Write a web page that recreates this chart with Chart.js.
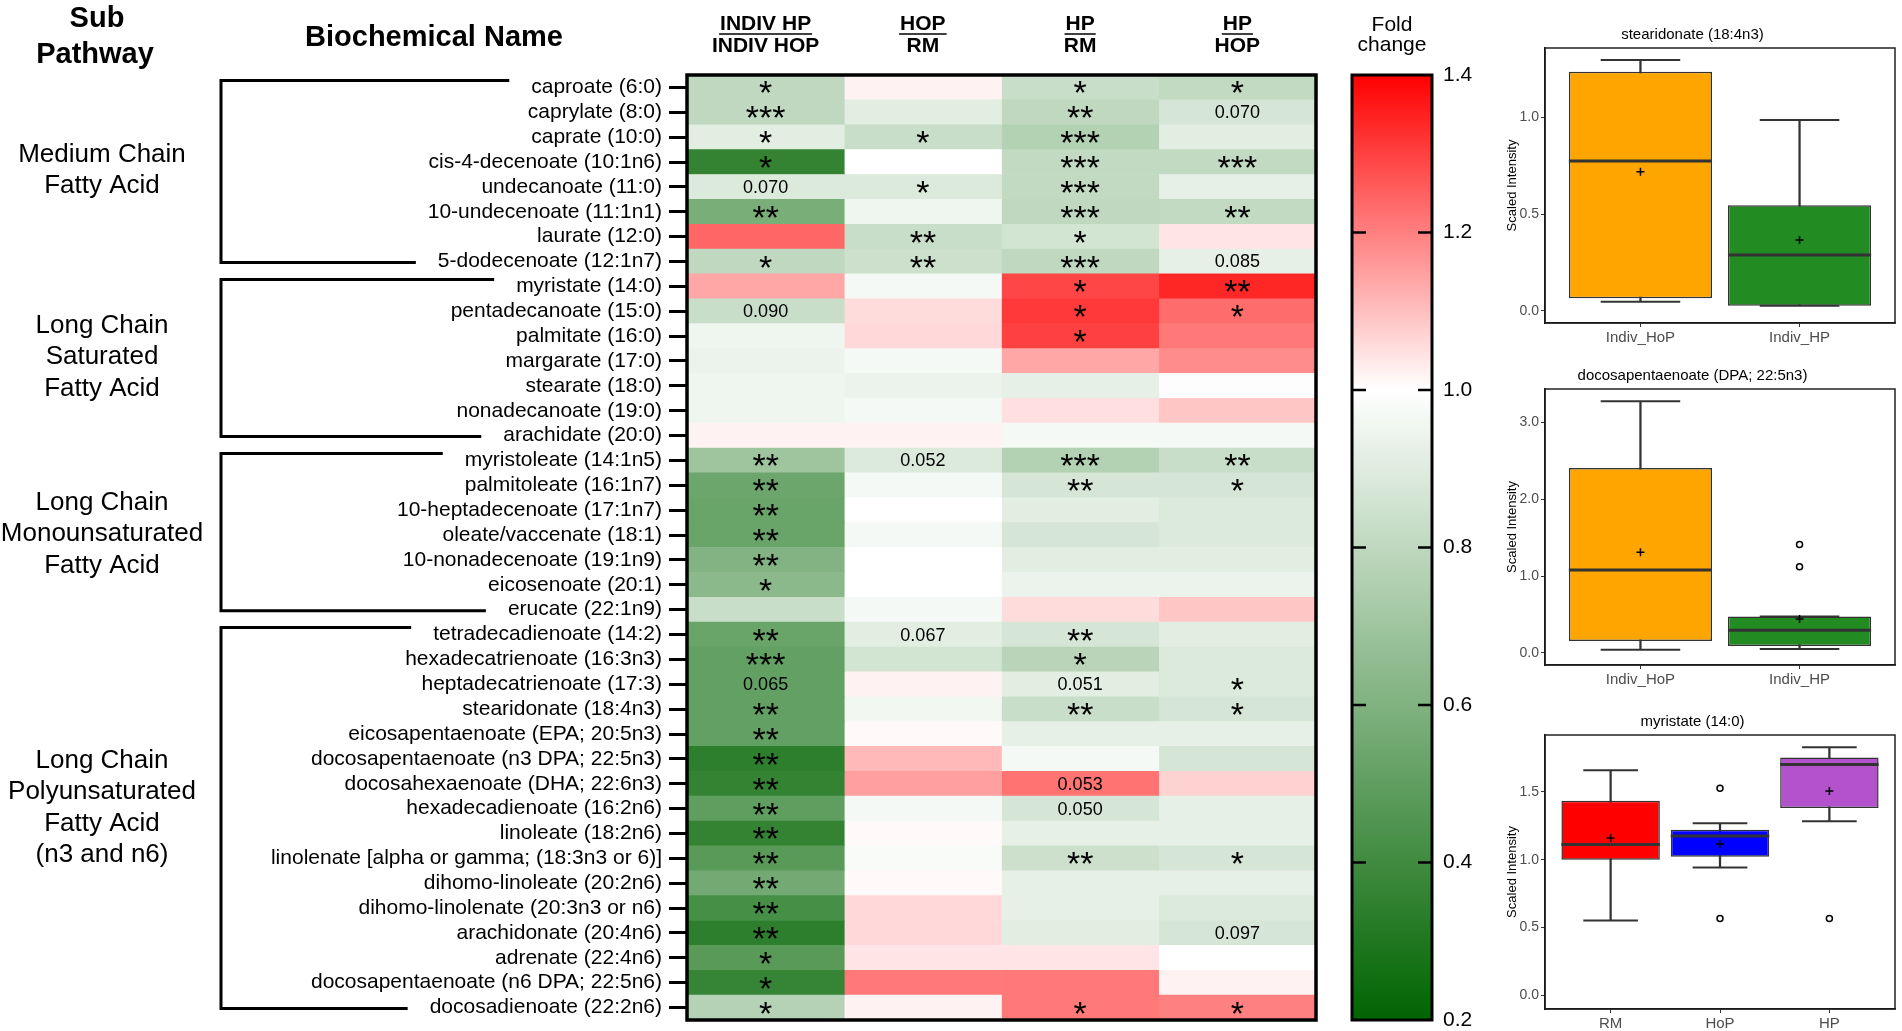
<!DOCTYPE html>
<html>
<head>
<meta charset="utf-8">
<script src="https://cdn.jsdelivr.net/npm/chart.js@4.4.1/dist/chart.umd.min.js"></script>
<style>
  html, body { margin: 0; padding: 0; background: #fff; width: 1902px; height: 1031px; overflow: hidden; }
  canvas { position: absolute; }
</style>
</head>
<body>
<canvas id="heat" width="1340" height="1031" style="left:0;top:0"></canvas>
<canvas id="scale" width="170" height="1031" style="left:1330px;top:0"></canvas>
<canvas id="box1" width="412" height="345" style="left:1490px;top:0"></canvas>
<canvas id="box2" width="412" height="346" style="left:1490px;top:341px"></canvas>
<canvas id="box3" width="412" height="344" style="left:1490px;top:687px"></canvas>
<script>
// heatmap rows
const rowNames = [
  'caproate (6:0)', 'caprylate (8:0)', 'caprate (10:0)', 'cis-4-decenoate (10:1n6)',
  'undecanoate (11:0)', '10-undecenoate (11:1n1)', 'laurate (12:0)', '5-dodecenoate (12:1n7)',
  'myristate (14:0)', 'pentadecanoate (15:0)', 'palmitate (16:0)', 'margarate (17:0)',
  'stearate (18:0)', 'nonadecanoate (19:0)', 'arachidate (20:0)',
  'myristoleate (14:1n5)', 'palmitoleate (16:1n7)', '10-heptadecenoate (17:1n7)',
  'oleate/vaccenate (18:1)', '10-nonadecenoate (19:1n9)', 'eicosenoate (20:1)', 'erucate (22:1n9)',
  'tetradecadienoate (14:2)', 'hexadecatrienoate (16:3n3)', 'heptadecatrienoate (17:3)',
  'stearidonate (18:4n3)', 'eicosapentaenoate (EPA; 20:5n3)', 'docosapentaenoate (n3 DPA; 22:5n3)',
  'docosahexaenoate (DHA; 22:6n3)', 'hexadecadienoate (16:2n6)', 'linoleate (18:2n6)',
  'linolenate [alpha or gamma; (18:3n3 or 6)]', 'dihomo-linoleate (20:2n6)',
  'dihomo-linolenate (20:3n3 or n6)', 'arachidonate (20:4n6)', 'adrenate (22:4n6)',
  'docosapentaenoate (n6 DPA; 22:5n6)', 'docosadienoate (22:2n6)'
];

const headTop = ['INDIV HP', 'HOP', 'HP', 'HP'];
const headBottom = ['INDIV HOP', 'RM', 'RM', 'HOP'];

// fold change per comparison
const fcIndiv = [0.80, 0.80, 0.91, 0.36, 0.89, 0.58, 1.24, 0.80, 1.14, 0.83, 0.95, 0.94, 0.95, 0.95, 1.02,
  0.70, 0.54, 0.53, 0.53, 0.61, 0.64, 0.83, 0.53, 0.51, 0.51, 0.51, 0.51, 0.34, 0.36, 0.50,
  0.36, 0.48, 0.56, 0.42, 0.34, 0.48, 0.37, 0.77];
const fcHopRm = [1.02, 0.91, 0.83, 1.00, 0.89, 0.95, 0.83, 0.84, 0.97, 1.055, 1.06, 0.97, 0.94, 0.97, 1.02,
  0.89, 0.97, 1.00, 0.97, 1.00, 1.00, 0.97, 0.91, 0.86, 1.02, 0.96, 1.01, 1.11, 1.15, 0.97,
  1.01, 0.98, 1.01, 1.06, 1.06, 1.04, 1.21, 1.02];
const fcHpRm = [0.83, 0.80, 0.76, 0.81, 0.81, 0.80, 0.86, 0.80, 1.29, 1.31, 1.30, 1.14, 0.92, 1.05, 0.97,
  0.76, 0.87, 0.91, 0.87, 0.91, 0.94, 1.055, 0.87, 0.78, 0.91, 0.83, 0.92, 0.97, 1.22, 0.87,
  0.92, 0.84, 0.92, 0.92, 0.91, 1.04, 1.21, 1.21];
const fcHpHop = [0.81, 0.87, 0.91, 0.81, 0.92, 0.81, 1.04, 0.92, 1.34, 1.23, 1.21, 1.18, 0.99, 1.09, 0.97,
  0.83, 0.87, 0.89, 0.89, 0.91, 0.94, 1.09, 0.91, 0.89, 0.89, 0.87, 0.92, 0.87, 1.07, 0.92,
  0.92, 0.87, 0.92, 0.89, 0.87, 1.00, 1.02, 1.20];

// significance marks per comparison
const sigIndiv = ['*', '***', '*', '*', '0.070', '**', '', '*', '', '0.090', '', '', '', '', '',
  '**', '**', '**', '**', '**', '*', '', '**', '***', '0.065', '**', '**', '**', '**', '**',
  '**', '**', '**', '**', '**', '*', '*', '*'];
const sigHopRm = ['', '', '*', '', '*', '', '**', '**', '', '', '', '', '', '', '',
  '0.052', '', '', '', '', '', '', '0.067', '', '', '', '', '', '', '',
  '', '', '', '', '', '', '', ''];
const sigHpRm = ['*', '**', '***', '***', '***', '***', '*', '***', '*', '*', '*', '', '', '', '',
  '***', '**', '', '', '', '', '', '**', '*', '0.051', '**', '', '', '0.053', '0.050',
  '', '**', '', '', '', '', '', '*'];
const sigHpHop = ['*', '0.070', '', '***', '', '**', '', '0.085', '**', '*', '', '', '', '', '',
  '**', '*', '', '', '', '', '', '', '', '*', '*', '', '', '', '',
  '', '*', '', '', '0.097', '', '', '*'];

const pathwayLabels = [
  ['Medium Chain', 'Fatty Acid'],
  ['Long Chain', 'Saturated', 'Fatty Acid'],
  ['Long Chain', 'Monounsaturated', 'Fatty Acid'],
  ['Long Chain', 'Polyunsaturated', 'Fatty Acid', '(n3 and n6)']
];
const pathwayFirst = [0, 8, 15, 22];
const pathwayLast = [7, 14, 21, 37];

const scaleTicks = [0.2, 0.4, 0.6, 0.8, 1.0, 1.2, 1.4];

// box plots
const box1Groups = ['Indiv_HoP', 'Indiv_HP'];
const box1Low = [0.048, 0.027];
const box1Q1 = [0.065, 0.027];
const box1Med = [0.773, 0.289];
const box1Q3 = [1.234, 0.545];
const box1High = [1.294, 0.985];
const box1Mean = [0.718, 0.366];
const box1Out = [[], []];
const box1Ticks = [0, 0.5, 1.0];

const box2Groups = ['Indiv_HoP', 'Indiv_HP'];
const box2Low = [0.043, 0.052];
const box2Q1 = [0.156, 0.09];
const box2Med = [1.077, 0.295];
const box2Q3 = [2.405, 0.473];
const box2High = [3.27, 0.473];
const box2Mean = [1.31, 0.443];
const box2Out = [[], [1.12, 1.41]];
const box2Ticks = [0, 1, 2, 3];

const box3Groups = ['RM', 'HoP', 'HP'];
const box3Low = [0.552, 0.944, 1.285];
const box3Q1 = [1.0, 1.022, 1.382];
const box3Med = [1.112, 1.175, 1.703];
const box3Q3 = [1.435, 1.221, 1.754];
const box3High = [1.66, 1.27, 1.83];
const box3Mean = [1.16, 1.117, 1.508];
const box3Out = [[], [0.567, 1.528], [0.567]];
const box3Ticks = [0, 0.5, 1.0, 1.5];

const FONT = "'Liberation Sans', Arial, sans-serif";
Chart.defaults.font.family = FONT;
Chart.defaults.color = '#000';

function foldColor(v) {
  if (v >= 1) {
    const t = Math.min((v - 1) / 0.4, 1);
    const c = Math.round(255 * (1 - t));
    return `rgb(255,${c},${c})`;
  }
  const t = Math.min((1 - v) / 0.8, 1);
  const c = Math.round(255 * (1 - t));
  return `rgb(${c},${Math.round(255 - 155 * t)},${c})`;
}

const fcCols = [fcIndiv, fcHopRm, fcHpRm, fcHpHop];
const sigCols = [sigIndiv, sigHopRm, sigHpRm, sigHpHop];

const heatDecor = {
  id: 'heatDecor',
  afterDraw(chart) {
    const { ctx, chartArea: a, scales: { x, y } } = chart;
    ctx.save();
    ctx.fillStyle = '#000';
    ctx.strokeStyle = '#000';
    ctx.textAlign = 'center';

    // significance marks
    sigCols.forEach((col, ci) => {
      col.forEach((s, ri) => {
        if (!s) return;
        const cx = x.getPixelForValue(ci + 0.5);
        const cy = y.getPixelForValue(ri);
        if (s[0] === '*') {
          ctx.font = `34px ${FONT}`;
          ctx.textBaseline = 'alphabetic';
          ctx.fillText(s, cx, cy + 17);
        } else {
          ctx.font = `18px ${FONT}`;
          ctx.textBaseline = 'middle';
          ctx.fillText(s, cx, cy + 1);
        }
      });
    });

    // frame
    ctx.lineWidth = 3.5;
    ctx.strokeRect(a.left, a.top, a.right - a.left, a.bottom - a.top);

    // column headers
    ctx.textBaseline = 'middle';
    ctx.font = `bold 21px ${FONT}`;
    headTop.forEach((t, ci) => {
      const cx = x.getPixelForValue(ci + 0.5);
      ctx.fillText(t, cx, 24);
      ctx.fillText(headBottom[ci], cx, 46);
      const w = ctx.measureText(t).width;
      ctx.lineWidth = 1.5;
      ctx.beginPath();
      ctx.moveTo(cx - w / 2 - 1, 34);
      ctx.lineTo(cx + w / 2 + 1, 34);
      ctx.stroke();
    });

    // titles
    ctx.font = `bold 29px ${FONT}`;
    ctx.fillText('Sub', 97, 19);
    ctx.fillText('Pathway', 95, 55);
    ctx.fillText('Biochemical Name', 434, 38);

    // brackets and sub pathway labels
    const labelRight = a.left - 18 - 7;
    const bx = 221;
    const nudge = [-1, -1, 2, -10];
    pathwayLabels.forEach((lines, gi) => {
      const top = y.getPixelForValue(pathwayFirst[gi]) - 7;
      const bot = y.getPixelForValue(pathwayLast[gi]) + 1;
      ctx.font = `21px ${FONT}`;
      const wTop = ctx.measureText(rowNames[pathwayFirst[gi]]).width;
      const wBot = ctx.measureText(rowNames[pathwayLast[gi]]).width;
      ctx.lineWidth = 3;
      ctx.beginPath();
      ctx.moveTo(labelRight - wTop - 22, top);
      ctx.lineTo(bx, top);
      ctx.lineTo(bx, bot);
      ctx.lineTo(labelRight - wBot - 22, bot);
      ctx.stroke();

      ctx.font = `26px ${FONT}`;
      const lh = 31.5;
      const mid = (top + bot) / 2 + nudge[gi];
      const y0 = mid - (lines.length - 1) * lh / 2;
      lines.forEach((t, k) => ctx.fillText(t, 102, y0 + k * lh));
    });
    ctx.restore();
  }
};

new Chart(document.getElementById('heat'), {
  type: 'bar',
  data: {
    labels: rowNames,
    datasets: fcCols.map((fc, ci) => ({
      data: rowNames.map(() => [ci, ci + 1]),
      backgroundColor: fc.map(foldColor),
      borderWidth: 0,
      barPercentage: 1,
      categoryPercentage: 1,
      grouped: false
    }))
  },
  options: {
    indexAxis: 'y',
    responsive: false,
    animation: false,
    events: [],
    layout: { padding: { top: 75, bottom: 11, right: 24, left: 0 } },
    plugins: { legend: { display: false }, tooltip: { enabled: false } },
    scales: {
      x: { type: 'linear', min: 0, max: 4, display: false },
      y: {
        type: 'category',
        offset: true,
        grid: { offset: false, drawOnChartArea: false, drawTicks: true, tickLength: 18, tickWidth: 3, tickColor: '#000' },
        border: { display: false },
        ticks: { autoSkip: false, color: '#000', font: { size: 21 }, padding: 7 },
        afterFit(s) { s.width = 687; s.paddingTop = 0; s.paddingBottom = 0; }
      }
    }
  },
  plugins: [heatDecor]
});

// colour key
const scaleDecor = {
  id: 'scaleDecor',
  afterDraw(chart) {
    const { ctx, chartArea: a, scales: { y } } = chart;
    ctx.save();
    ctx.strokeStyle = '#000';
    ctx.lineWidth = 2.5;
    scaleTicks.slice(1, -1).forEach(v => {
      const py = y.getPixelForValue(v);
      ctx.beginPath();
      ctx.moveTo(a.left, py); ctx.lineTo(a.left + 14, py);
      ctx.moveTo(a.right - 14, py); ctx.lineTo(a.right, py);
      ctx.stroke();
    });
    ctx.lineWidth = 3;
    ctx.strokeRect(a.left, a.top, a.right - a.left, a.bottom - a.top);
    ctx.fillStyle = '#000';
    ctx.font = `21px ${FONT}`;
    ctx.textAlign = 'center';
    ctx.textBaseline = 'middle';
    const cx = (a.left + a.right) / 2;
    ctx.fillText('Fold', cx, 25);
    ctx.fillText('change', cx, 45);
    ctx.restore();
  }
};

new Chart(document.getElementById('scale'), {
  type: 'bar',
  data: {
    labels: [''],
    datasets: [{
      data: [[scaleTicks[0], scaleTicks[scaleTicks.length - 1]]],
      backgroundColor(c) {
        const ch = c.chart;
        if (!ch.chartArea) return '#fff';
        const y = ch.scales.y;
        const lo = scaleTicks[0], hi = scaleTicks[scaleTicks.length - 1];
        const g = ch.ctx.createLinearGradient(0, y.getPixelForValue(hi), 0, y.getPixelForValue(lo));
        for (let k = 0; k <= 48; k++) {
          const v = lo + (hi - lo) * k / 48;
          g.addColorStop((hi - v) / (hi - lo), foldColor(v));
        }
        return g;
      },
      borderWidth: 0,
      barPercentage: 1,
      categoryPercentage: 1
    }]
  },
  options: {
    responsive: false,
    animation: false,
    events: [],
    layout: { padding: { top: 75, bottom: 11, left: 22, right: 0 } },
    plugins: { legend: { display: false }, tooltip: { enabled: false } },
    scales: {
      x: { display: false },
      y: {
        position: 'right',
        min: 0.2, max: 1.4,
        afterBuildTicks(s) { s.ticks = scaleTicks.map(v => ({ value: v })); },
        ticks: { callback: v => v.toFixed(1), color: '#000', font: { size: 21 }, padding: 11 },
        grid: { display: false, drawTicks: false },
        border: { display: false },
        afterFit(s) { s.width = 68; s.paddingTop = 0; s.paddingBottom = 0; }
      }
    }
  },
  plugins: [scaleDecor]
});

// box plots
const frame = {
  id: 'frame',
  afterDraw(chart) {
    const { ctx, chartArea: a } = chart;
    ctx.save();
    ctx.strokeStyle = '#222';
    ctx.lineWidth = 1.5;
    ctx.strokeRect(a.left, a.top, a.right - a.left, a.bottom - a.top);
    ctx.restore();
  }
};

function unitPx(chart, u) {
  const s = chart.scales.x;
  return Math.abs(s.getPixelForValue(1 + u) - s.getPixelForValue(1));
}

function makeBox(id, title, groups, low, q1, med, q3, high, mean, outs, colors, yMin, yMax, yTicks) {
  const xs = groups.map((g, i) => i + 1);
  const caps = [];
  xs.forEach((x, i) => { caps.push({ x, y: high[i] }, { x, y: low[i] }); });
  const outPts = [];
  outs.forEach((arr, i) => arr.forEach(v => outPts.push({ x: i + 1, y: v })));

  new Chart(document.getElementById(id), {
    type: 'bar',
    data: {
      datasets: [
        { type: 'scatter', data: outPts, pointStyle: 'circle', pointRadius: 3,
          pointBackgroundColor: '#fff', pointBorderColor: '#000', pointBorderWidth: 1.5, order: 0 },
        { type: 'scatter', data: xs.map((x, i) => ({ x, y: mean[i] })), pointStyle: 'cross', pointRadius: 4,
          pointBorderColor: '#000', pointBorderWidth: 1.5, order: 1 },
        { type: 'scatter', data: xs.map((x, i) => ({ x, y: med[i] })), pointStyle: 'line',
          pointRadius: c => unitPx(c.chart, 0.45), pointBorderColor: '#333', pointBorderWidth: 3, order: 2 },
        { type: 'bar', data: xs.map((x, i) => ({ x, y: [q1[i], q3[i]] })), backgroundColor: colors,
          borderColor: '#333', borderWidth: 1.5, borderSkipped: false,
          barPercentage: 0.9, categoryPercentage: 1, grouped: false, order: 3 },
        { type: 'scatter', data: caps, pointStyle: 'line',
          pointRadius: c => unitPx(c.chart, 0.25), pointBorderColor: '#333', pointBorderWidth: 2, order: 4 },
        { type: 'bar', data: xs.map((x, i) => ({ x, y: [low[i], high[i]] })), backgroundColor: '#333',
          borderWidth: 0, barThickness: 1.6, grouped: false, order: 5 }
      ]
    },
    options: {
      responsive: false,
      animation: false,
      events: [],
      layout: { padding: { left: 0, right: 7, top: 0, bottom: 0 } },
      plugins: {
        legend: { display: false },
        tooltip: { enabled: false },
        title: { display: true, text: title, color: '#000', font: { size: 15, weight: 'normal' }, padding: { top: 26, bottom: 4 } }
      },
      scales: {
        x: {
          type: 'linear', min: 0.4, max: groups.length + 0.6, offset: false,
          afterBuildTicks(s) { s.ticks = xs.map(v => ({ value: v })); },
          ticks: { callback: v => groups[Math.round(v) - 1], color: '#4D4D4D', font: { size: 15 }, padding: 2, autoSkip: false, maxRotation: 0 },
          grid: { drawOnChartArea: false, drawTicks: true, tickLength: 4, color: '#333', offset: false },
          border: { color: '#000', width: 1.5 },
          afterFit(s) { s.height = 22; }
        },
        y: {
          type: 'linear', min: yMin, max: yMax,
          afterBuildTicks(s) { s.ticks = yTicks.map(v => ({ value: v })); },
          ticks: { callback: v => v.toFixed(1), color: '#4D4D4D', font: { size: 14 }, padding: 2 },
          grid: { drawOnChartArea: false, drawTicks: true, tickLength: 4, color: '#333' },
          border: { color: '#000', width: 1.5 },
          title: { display: true, text: 'Scaled Intensity', color: '#000', font: { size: 13 }, padding: { top: 15, bottom: 0 } },
          afterFit(s) { s.width = 55; }
        }
      }
    },
    plugins: [frame]
  });
}

makeBox('box1', 'stearidonate (18:4n3)', box1Groups, box1Low, box1Q1, box1Med, box1Q3, box1High, box1Mean, box1Out,
  ['#FFA500', '#228B22'], -0.062, 1.356, box1Ticks);
makeBox('box2', 'docosapentaenoate (DPA; 22:5n3)', box2Groups, box2Low, box2Q1, box2Med, box2Q3, box2High, box2Mean, box2Out,
  ['#FFA500', '#228B22'], -0.156, 3.43, box2Ticks);
makeBox('box3', 'myristate (14:0)', box3Groups, box3Low, box3Q1, box3Med, box3Q3, box3High, box3Mean, box3Out,
  ['#FF0000', '#0000FF', '#B452CD'], -0.10, 1.92, box3Ticks);
</script>
</body>
</html>
